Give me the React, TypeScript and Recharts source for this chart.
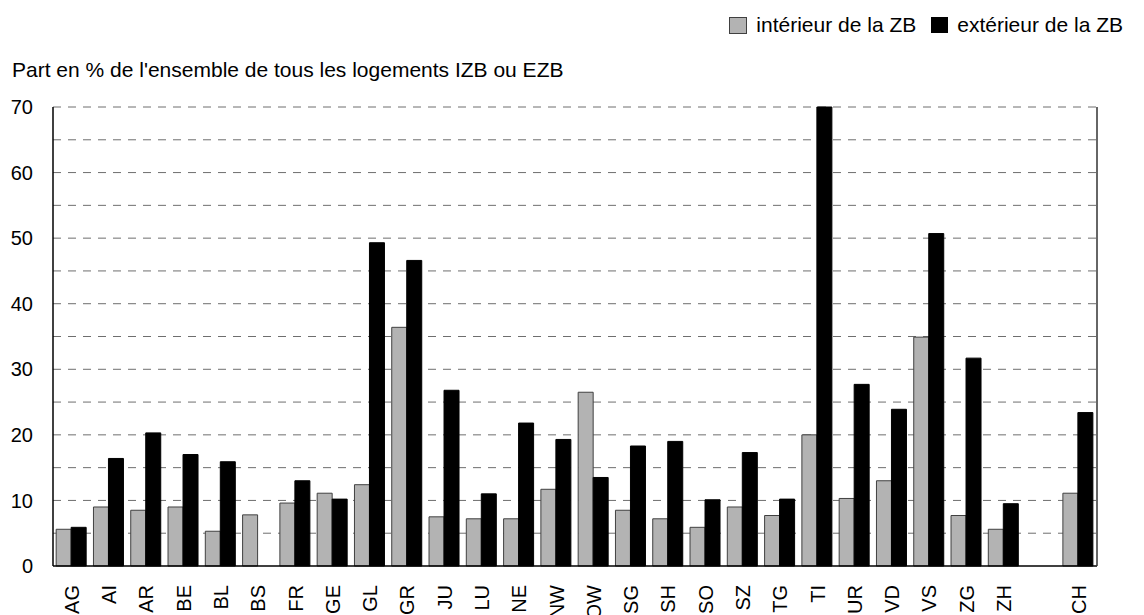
import React from "react";
import { BarChart, Bar, XAxis, YAxis, CartesianGrid } from "recharts";

const categories = ["AG","AI","AR","BE","BL","BS","FR","GE","GL","GR","JU","LU","NE","NW","OW","SG","SH","SO","SZ","TG","TI","UR","VD","VS","ZG","ZH","","CH"];
const inside: (number | null)[] = [5.6,9.0,8.5,9.0,5.3,7.8,9.6,11.1,12.4,36.4,7.5,7.2,7.2,11.7,26.5,8.5,7.2,5.9,9.0,7.7,20.0,10.3,13.0,34.9,7.7,5.6,null,11.1];
const outside: (number | null)[] = [5.9,16.4,20.3,17.0,15.9,0,13.0,10.2,49.3,46.6,26.8,11.0,21.8,19.3,13.5,18.3,19.0,10.1,17.3,10.2,70,27.7,23.9,50.7,31.7,9.5,null,23.4];
const yTicks = [0, 10, 20, 30, 40, 50, 60, 70];
const gridValues = [5, 10, 15, 20, 25, 30, 35, 40, 45, 50, 55, 60, 65, 70];
const seriesNames = ["intérieur de la ZB", "extérieur de la ZB"];
const title = "Part en % de l'ensemble de tous les logements IZB ou EZB";

const data = categories.map((name, i) => ({ name, inside: inside[i], outside: outside[i] }));

const FONT = "'Liberation Sans', Arial, sans-serif";

const XTick = (props: any) => {
  const { x, y, payload } = props;
  if (!payload || !payload.value) return <g />;
  return (
    <text
      x={x}
      y={y}
      transform={`rotate(-90, ${x}, ${y})`}
      textAnchor="end"
      dy="0.358em"
      fontSize={20}
      fontFamily={FONT}
      fill="#000"
    >
      {payload.value}
    </text>
  );
};

export default function App() {
  return (
    <div style={{ position: "absolute", left: 0, top: 0, width: 1144, height: 615, background: "#fff" }}>
      <div
        style={{
          position: "absolute",
          left: 12,
          top: 58,
          fontFamily: FONT,
          fontSize: 21,
          lineHeight: "24px",
          color: "#000",
          whiteSpace: "nowrap",
        }}
      >
        {title}
      </div>
      <div
        style={{
          position: "absolute",
          right: 21,
          top: 13,
          height: 24,
          display: "flex",
          alignItems: "center",
          fontFamily: FONT,
          fontSize: 21,
          lineHeight: "24px",
          color: "#000",
          whiteSpace: "nowrap",
        }}
      >
        <span style={{ width: 16, height: 15, background: "#b3b3b3", border: "1px solid #404040", display: "inline-block", marginRight: 9 }} />
        <span style={{ marginRight: 15 }}>{seriesNames[0]}</span>
        <span style={{ width: 17, height: 16, background: "#000", display: "inline-block", marginRight: 9 }} />
        <span>{seriesNames[1]}</span>
      </div>
      <BarChart
        width={1144}
        height={615}
        data={data}
        margin={{ top: 107, right: 0, bottom: 0, left: 0 }}
        barCategoryGap="8.5%"
        barGap={0}
        style={{ position: "absolute", left: 0, top: 0 }}
      >
        <CartesianGrid
          vertical={false}
          horizontalValues={gridValues}
          stroke="#6e6e6e"
          strokeDasharray="8 7"
        />
        <XAxis
          dataKey="name"
          height={49}
          interval={0}
          tickLine={false}
          tickSize={0}
          tickMargin={19}
          axisLine={{ stroke: "#000", strokeWidth: 1.5 }}
          tick={<XTick />}
        />
        <YAxis
          width={53}
          domain={[0, 70]}
          ticks={yTicks}
          tickLine={false}
          tickSize={0}
          tickMargin={20}
          axisLine={{ stroke: "#000", strokeWidth: 1.5 }}
          tick={{ fontSize: 20, fontFamily: FONT, fill: "#000" }}
        />
        <YAxis
          yAxisId="right"
          orientation="right"
          width={47}
          domain={[0, 70]}
          ticks={yTicks}
          tickLine={false}
          tickSize={0}
          tickMargin={20}
          axisLine={{ stroke: "#333", strokeWidth: 1.5 }}
          tick={{ fontSize: 20, fontFamily: FONT, fill: "#000", textAnchor: "start" }}
        />
        <Bar dataKey="inside" name={seriesNames[0]} fill="#b3b3b3" stroke="#404040" strokeWidth={1} isAnimationActive={false} />
        <Bar dataKey="outside" name={seriesNames[1]} fill="#000" stroke="#000" strokeWidth={1} isAnimationActive={false} />
      </BarChart>
    </div>
  );
}
